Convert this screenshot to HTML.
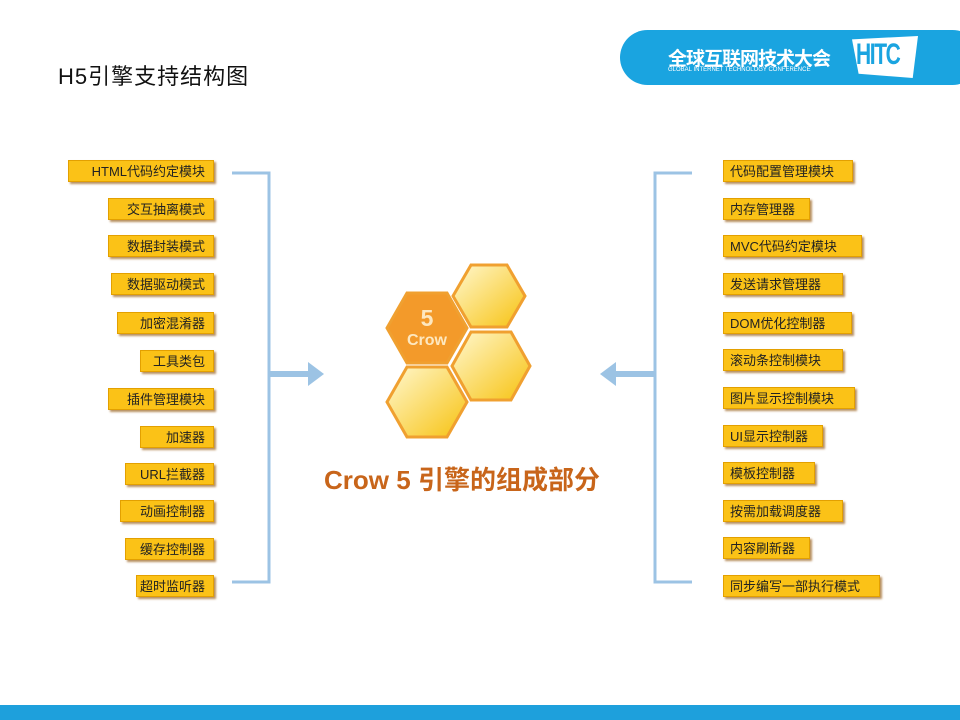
<!DOCTYPE html>
<html><head><meta charset="utf-8"><style>
body{margin:0;width:960px;height:720px;position:relative;background:#fff;overflow:hidden;font-family:"Liberation Sans","Noto Sans CJK SC",sans-serif}
.b{position:absolute;height:22px;background:#fbc217;border:1px solid #e3a000;box-shadow:2px 2px 2px #b89060;font-size:13px;line-height:22px;color:#222;white-space:nowrap;box-sizing:border-box}
.l{text-align:right;padding-right:8px}
.r{text-align:left;padding-left:6px}
</style></head><body>
<div style="position:absolute;left:58px;top:59px;font-size:22px;color:#111;letter-spacing:1px">H5引擎支持结构图</div>
<div style="position:absolute;left:620px;top:30px;width:360px;height:55px;background:#1aa4e0;border-radius:28px"></div>
<div style="position:absolute;left:668px;top:44px;font-size:19px;color:#fff;font-weight:bold;letter-spacing:-1px">全球互联网技术大会</div>
<div style="position:absolute;left:668px;top:67px;font-size:6px;color:#fff">GLOBAL INTERNET TECHNOLOGY CONFERENCE</div>
<div style="position:absolute;left:852px;top:36px;width:66px;height:42px;background:#fff;clip-path:polygon(0 8%,100% 0,92% 100%,10% 90%)"></div>
<div style="position:absolute;left:856px;top:38px;font-size:30px;color:#1aa4e0;font-weight:bold;letter-spacing:-2px;transform:scaleX(0.7);transform-origin:left">HITC</div>
<div style="position:absolute;left:0;top:705px;width:960px;height:15px;background:#1ea0dc"></div>

<svg width="960" height="720" style="position:absolute;left:0;top:0">
<g stroke="#9cc3e4" stroke-width="3" fill="none">
<polyline points="232,173 269,173 269,582 232,582"/>
<polyline points="692,173 655,173 655,582 692,582"/>
<line x1="269" y1="374" x2="310" y2="374" stroke-width="6"/>
<line x1="655" y1="374" x2="614" y2="374" stroke-width="6"/>
</g>
<polygon points="308,362 324,374 308,386" fill="#9cc3e4"/>
<polygon points="616,362 600,374 616,386" fill="#9cc3e4"/>
<defs><linearGradient id="g" x1="0" y1="0" x2="1" y2="1"><stop offset="0" stop-color="#fff8d0"/><stop offset="1" stop-color="#f7c20f"/></linearGradient></defs>
<g stroke="#f0a030" stroke-width="3">
<polygon points="525,296 507,265 471,265 453,296 471,327 507,327" fill="url(#g)"/>
<polygon points="530,366 511,332 471,332 452,366 471,400 511,400" fill="url(#g)"/>
<polygon points="467,402 447,367 407,367 387,402 407,437 447,437" fill="url(#g)"/>
<polygon points="467,328 447,293 407,293 387,328 407,363 447,363" fill="#f39a2a"/>
</g>
<text x="427" y="326" font-size="23" font-weight="bold" fill="#fde8c0" text-anchor="middle" font-family="Liberation Sans">5</text>
<text x="427" y="345" font-size="16" font-weight="bold" fill="#fde8c0" text-anchor="middle" font-family="Liberation Sans">Crow</text>
</svg>
<div style="position:absolute;left:306px;top:460px;width:312px;text-align:center;font-size:26px;font-weight:bold;color:#c8651a;white-space:nowrap">Crow 5 引擎的组成部分</div>

<div class="b l" style="left:68px;top:160px;width:146px">HTML代码约定模块</div>
<div class="b l" style="left:108px;top:198px;width:106px">交互抽离模式</div>
<div class="b l" style="left:108px;top:235px;width:106px">数据封装模式</div>
<div class="b l" style="left:111px;top:273px;width:103px">数据驱动模式</div>
<div class="b l" style="left:117px;top:312px;width:97px">加密混淆器</div>
<div class="b l" style="left:140px;top:350px;width:74px">工具类包</div>
<div class="b l" style="left:108px;top:388px;width:106px">插件管理模块</div>
<div class="b l" style="left:140px;top:426px;width:74px">加速器</div>
<div class="b l" style="left:125px;top:463px;width:89px">URL拦截器</div>
<div class="b l" style="left:120px;top:500px;width:94px">动画控制器</div>
<div class="b l" style="left:125px;top:538px;width:89px">缓存控制器</div>
<div class="b l" style="left:136px;top:575px;width:78px">超时监听器</div>

<div class="b r" style="left:723px;top:160px;width:130px">代码配置管理模块</div>
<div class="b r" style="left:723px;top:198px;width:87px">内存管理器</div>
<div class="b r" style="left:723px;top:235px;width:139px">MVC代码约定模块</div>
<div class="b r" style="left:723px;top:273px;width:120px">发送请求管理器</div>
<div class="b r" style="left:723px;top:312px;width:129px">DOM优化控制器</div>
<div class="b r" style="left:723px;top:349px;width:120px">滚动条控制模块</div>
<div class="b r" style="left:723px;top:387px;width:132px">图片显示控制模块</div>
<div class="b r" style="left:723px;top:425px;width:100px">UI显示控制器</div>
<div class="b r" style="left:723px;top:462px;width:92px">模板控制器</div>
<div class="b r" style="left:723px;top:500px;width:120px">按需加载调度器</div>
<div class="b r" style="left:723px;top:537px;width:87px">内容刷新器</div>
<div class="b r" style="left:723px;top:575px;width:157px">同步编写一部执行模式</div>
</body></html>
